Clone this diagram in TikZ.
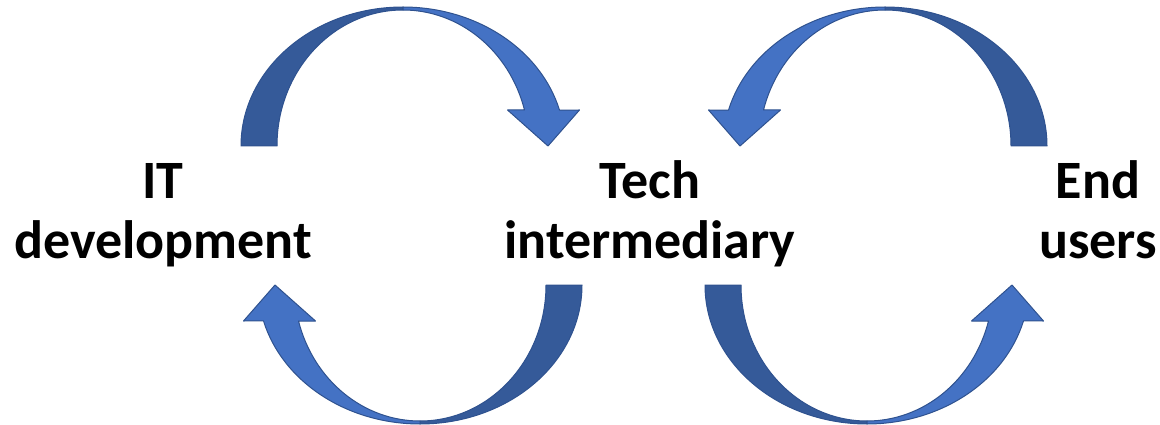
\documentclass[tikz,border=0pt]{standalone}
\usepackage{fontspec}
\setmainfont{Carlito}
\definecolor{bandlight}{HTML}{4472C4}
\definecolor{banddark}{HTML}{355A99}
\definecolor{bandline}{HTML}{2F528F}
\tikzset{
  bandpart/.style={draw=bandline, line width=1pt, line join=round},
  label/.style={font=\bfseries\fontsize{54}{60}\selectfont, align=center, inner sep=0pt, anchor=base},
  carrow/.pic={
    \path[bandpart, fill=banddark]
      (-162,0) arc[start angle=180, end angle=90, x radius=162, y radius=139]
      -- (0,136) arc[start angle=90, end angle=180, x radius=126, y radius=136]
      -- cycle;
    \path[bandpart, fill=bandlight]
      (0,139) arc[start angle=90, end angle=15, x radius=162, y radius=139]
      -- (176.5,36) -- (145,0) -- (104.5,36) -- (121.5,36)
      arc[start angle=15.35, end angle=90, x radius=126, y radius=136]
      -- cycle;
  }
}
\begin{document}
\begin{tikzpicture}[x=1pt, y=1pt]
\useasboundingbox (0,0) rectangle (1160,-425);
\coordinate (tl) at (403,-146);
\coordinate (bl) at (420,-285);
\coordinate (tr) at (885,-146);
\coordinate (br) at (867,-285);
\pic at (tl) {carrow};
\pic[rotate=180] at (bl) {carrow};
\pic[xscale=-1] at (tr) {carrow};
\pic[yscale=-1] at (br) {carrow};
\node[label] (itdev) at (163,-258) {IT\\development};
\node[label] (tech) at (650,-258) {Tech\\intermediary};
\node[label] (users) at (1098,-258) {End\\users};
\end{tikzpicture}
\end{document}
